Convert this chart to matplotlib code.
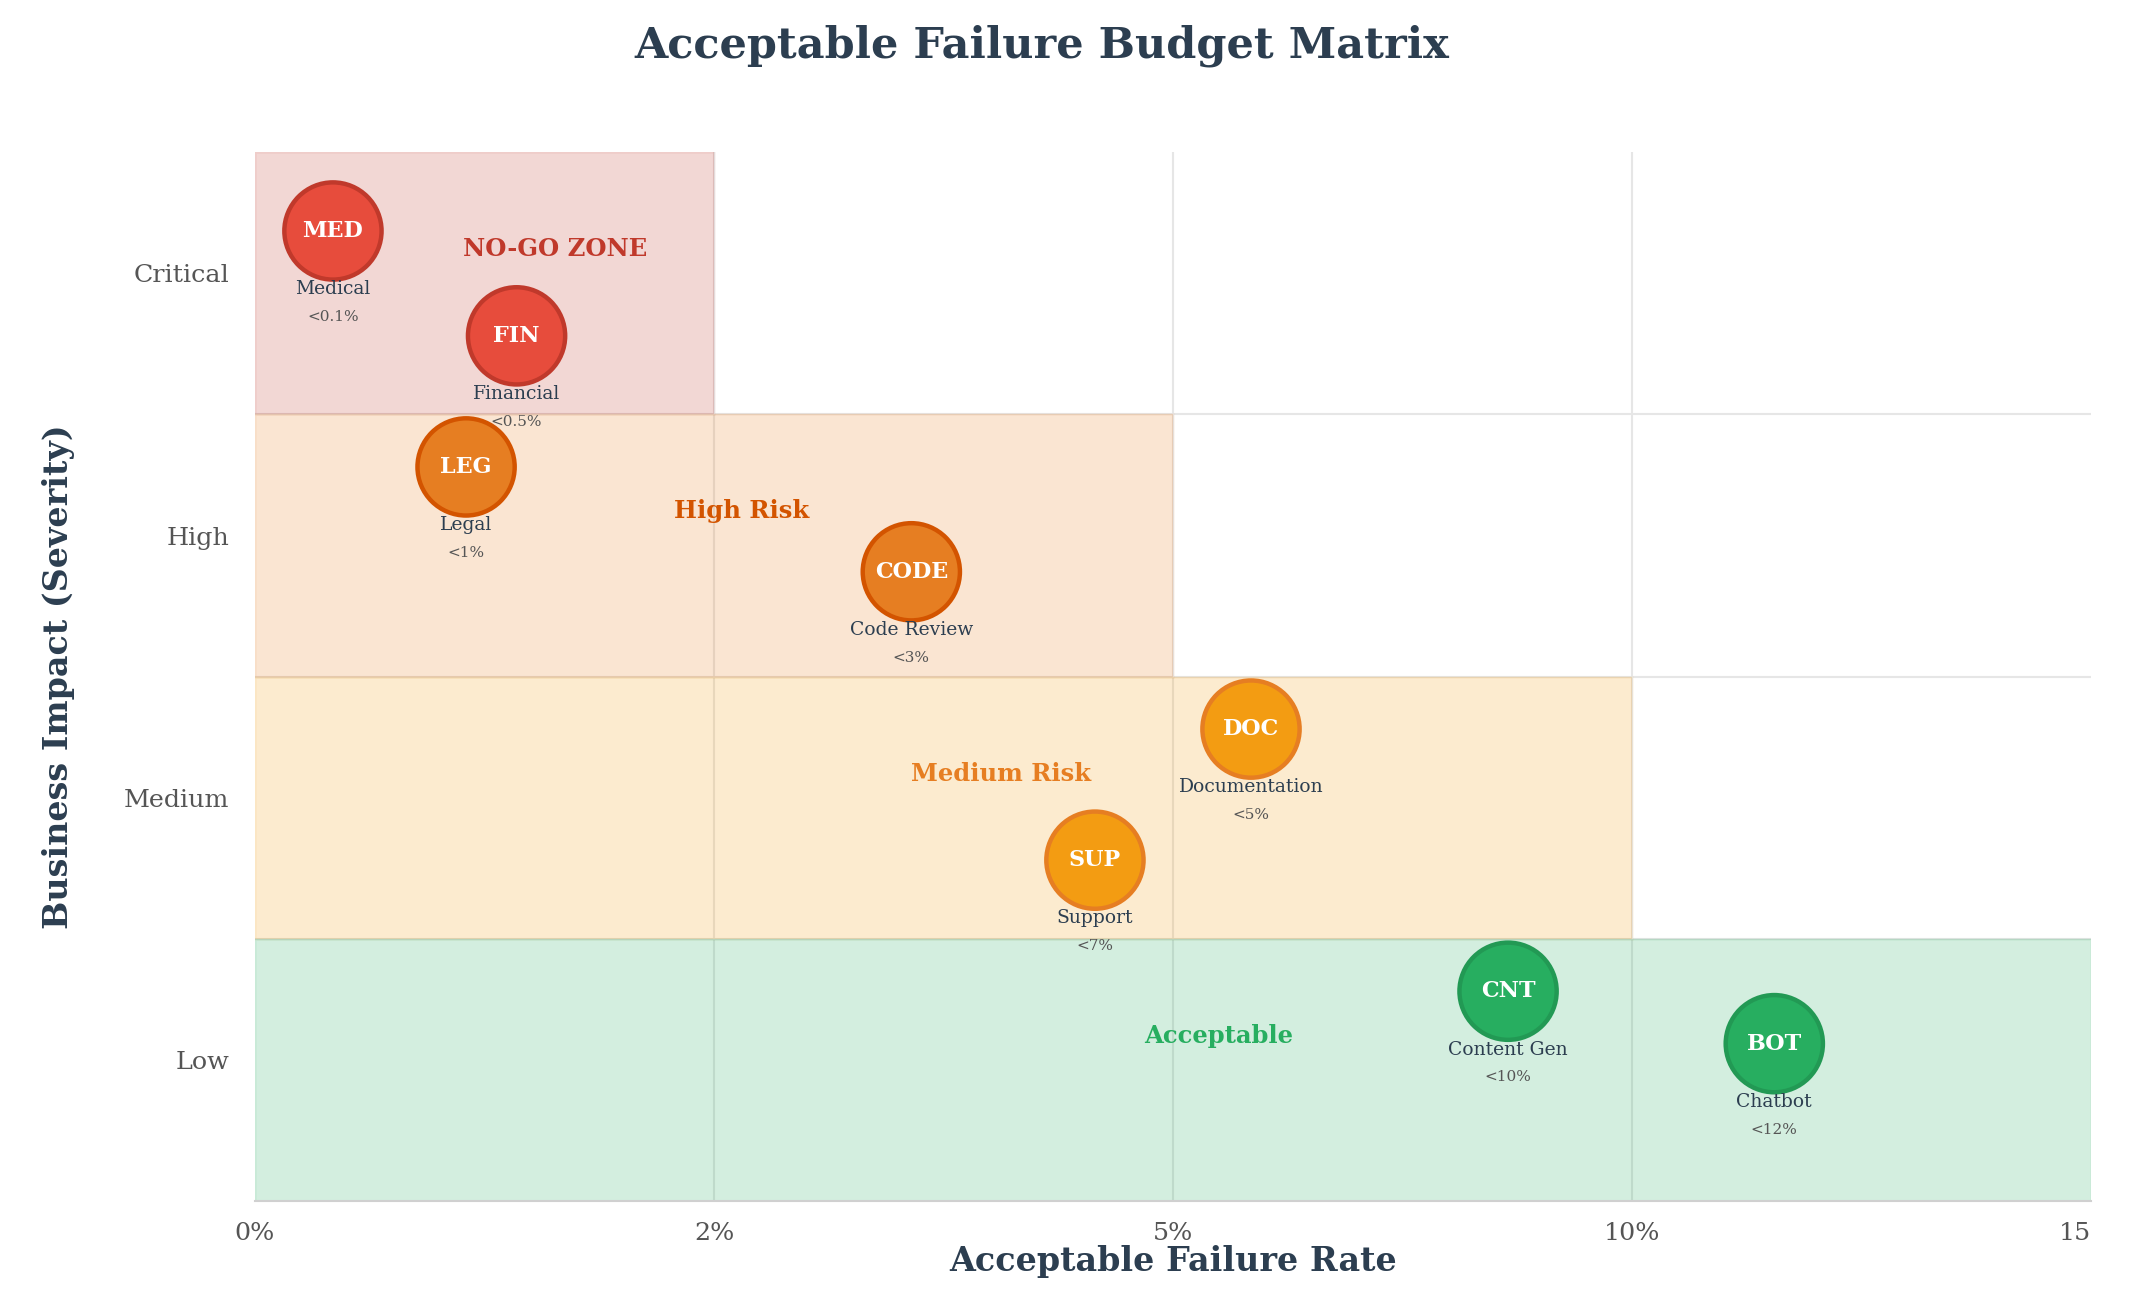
import matplotlib
matplotlib.use("Agg")
import matplotlib.pyplot as plt
from matplotlib.patches import Rectangle
from matplotlib.transforms import ScaledTranslation

plt.rcParams['font.family'] = ['DejaVu Serif']

# ---- data ----
x_ticks = [0, 1, 2, 3, 4]
x_tick_labels = ["0%", "2%", "5%", "10%", "15"]
y_levels = [0.5, 1.5, 2.5, 3.5]
y_labels = ["Low", "Medium", "High", "Critical"]

zone_names = ["NO-GO ZONE", "High Risk", "Medium Risk", "Acceptable"]
zone_x_end = [1, 2, 3, 4]
zone_y_start = [3, 2, 1, 0]
zone_colors = ["#c0392b", "#e67e22", "#f39c12", "#27ae60"]
zone_text_colors = ["#c0392b", "#d35400", "#e67e22", "#27ae60"]
zone_label_x = [0.655, 1.06, 1.625, 2.10]
zone_label_y = [3.63, 2.63, 1.63, 0.63]

codes = ["MED", "FIN", "LEG", "CODE", "DOC", "SUP", "CNT", "BOT"]
names = ["Medical", "Financial", "Legal", "Code Review", "Documentation",
         "Support", "Content Gen", "Chatbot"]
budgets = ["<0.1%", "<0.5%", "<1%", "<3%", "<5%", "<7%", "<10%", "<12%"]
bx = [0.17, 0.57, 0.46, 1.43, 2.17, 1.83, 2.73, 3.31]
by = [3.70, 3.30, 2.80, 2.40, 1.80, 1.30, 0.80, 0.60]
fills = ["#e74c3c", "#e74c3c", "#e67e22", "#e67e22", "#f39c12", "#f39c12",
         "#27ae60", "#27ae60"]
edges = ["#c0392b", "#c0392b", "#d35400", "#d35400", "#e67e22", "#e67e22",
         "#229954", "#229954"]

fig = plt.figure(figsize=(21.35, 13.02), dpi=100)
ax = fig.add_axes([0.1194, 0.0776, 0.8600, 0.8054])
ax.set_xlim(0, 4)
ax.set_ylim(0, 4)

# grid
for g in [1, 2, 3]:
    ax.axvline(g, color="#e6e6e6", lw=1.5, zorder=0)
    ax.axhline(g, color="#e6e6e6", lw=1.5, zorder=0)

# zones
for name, xe, ys, c, tc, lx, ly in zip(zone_names, zone_x_end, zone_y_start,
                                       zone_colors, zone_text_colors,
                                       zone_label_x, zone_label_y):
    ax.add_patch(Rectangle((0, ys), xe, 1, facecolor=c, alpha=0.2,
                           edgecolor="none", zorder=1))
    ax.add_patch(Rectangle((0, ys), xe, 1, facecolor="none", edgecolor=c,
                           alpha=0.06, lw=2, zorder=1))
    ax.text(lx, ly, name, color=tc, fontsize=17.5, fontweight="bold",
            ha="center", va="center", zorder=2)

# bubbles
ax.scatter(bx, by, s=4900, c=fills, edgecolors=edges, linewidths=3.2, zorder=3)
for x, y, code, nm, bd in zip(bx, by, codes, names, budgets):
    ax.text(x, y, code, color="white", fontsize=16, fontweight="bold",
            ha="center", va="center", zorder=4)
    ax.annotate(nm, (x, y), xytext=(0, -42), textcoords="offset points",
                ha="center", va="center", fontsize=13.5, color="#2c3e50", zorder=4)
    ax.annotate(bd, (x, y), xytext=(0, -62), textcoords="offset points",
                ha="center", va="center", fontsize=11, color="#555555", zorder=4)

# axes styling
for s in ["top", "right", "left"]:
    ax.spines[s].set_visible(False)
ax.spines["bottom"].set_color("#d0d0d0")
ax.spines["bottom"].set_linewidth(1.5)

ax.set_xticks(x_ticks)
ax.set_xticklabels(x_tick_labels)
ax.set_yticks(y_levels)
ax.set_yticklabels(y_labels)
ax.tick_params(axis="both", length=0, labelsize=18.3, colors="#555555")
ax.tick_params(axis="x", pad=15)
ax.tick_params(axis="y", pad=18.5)
ax.get_xticklabels()[-1].set_horizontalalignment("right")
shift = ScaledTranslation(0, 10 / 100, fig.dpi_scale_trans)
for lab in ax.get_yticklabels():
    lab.set_transform(lab.get_transform() + shift)

ax.set_xlabel("Acceptable Failure Rate", fontsize=24, fontweight="bold",
              color="#2c3e50", labelpad=0)
ax.set_ylabel("Business Impact (Severity)", fontsize=24, fontweight="bold",
              color="#2c3e50")
ax.yaxis.set_label_coords(-0.098, 0.5)

fig.text(0.488, 0.965, "Acceptable Failure Budget Matrix", fontsize=31,
         fontweight="bold", color="#2c3e50", ha="center", va="center")

fig.savefig("out.png", dpi=100, facecolor="white")
